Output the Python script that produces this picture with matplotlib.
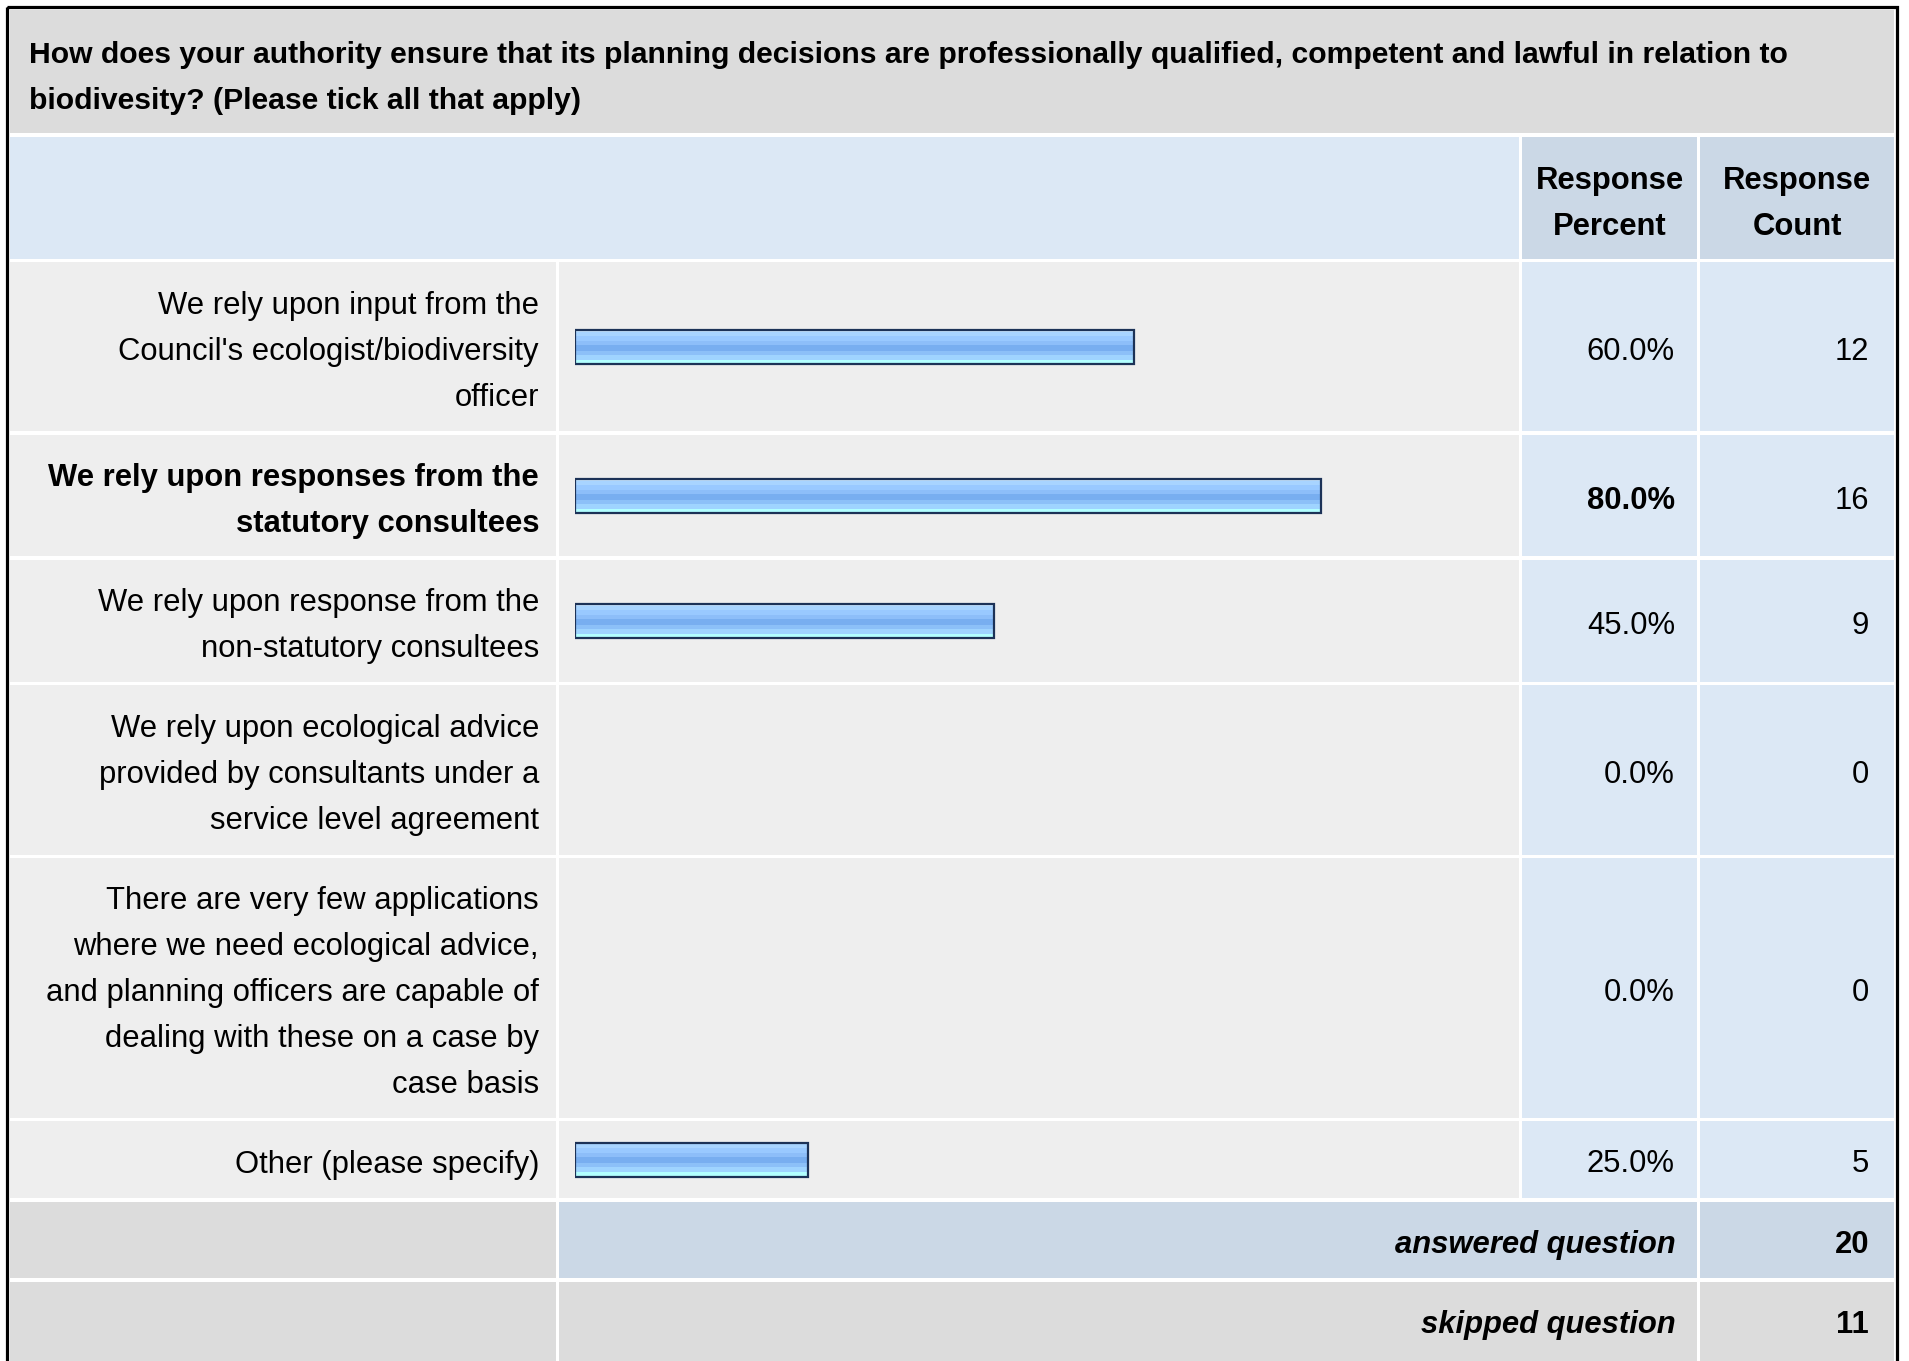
import matplotlib
matplotlib.use("Agg")
import matplotlib.pyplot as plt
from matplotlib.patches import Rectangle
from matplotlib.colors import ListedColormap
import numpy as np

plt.rcParams['font.family'] = ['Liberation Sans', 'DejaVu Sans']

# Survey data
question = ["How does your authority ensure that its planning decisions are professionally qualified, competent and lawful in relation to",
            "biodivesity? (Please tick all that apply)"]
options = [
    ["We rely upon input from the", "Council's ecologist/biodiversity", "officer"],
    ["We rely upon responses from the", "statutory consultees"],
    ["We rely upon response from the", "non-statutory consultees"],
    ["We rely upon ecological advice", "provided by consultants under a", "service level agreement"],
    ["There are very few applications", "where we need ecological advice,", "and planning officers are capable of",
     "dealing with these on a case by", "case basis"],
    ["Other (please specify)"],
]
percents = [60.0, 80.0, 45.0, 0.0, 0.0, 25.0]
counts = [12, 16, 9, 0, 0, 5]
answered = 20
skipped = 11

# Layout (pixels)
W, H = 1909, 1361
row_tops = [262, 435, 560, 685, 858, 1121]
row_bots = [431, 556, 682, 855, 1118, 1198]
lab_x0, lab_x1 = 10, 556
bar_x0, bar_x1 = 559, 1519
pct_x0, pct_x1 = 1522, 1697
cnt_x0, cnt_x1 = 1700, 1894

gray = '#dcdcdc'
light = '#eeeeee'
blue = '#dce8f5'
blue2 = '#cbd8e6'
FS = 22.3

fig = plt.figure(figsize=(W / 100, H / 100), dpi=100)
fig.patch.set_facecolor('white')
ax = fig.add_axes([0, 0, 1, 1])


def cell(x0, x1, y0, y1, color):
    ax.add_patch(Rectangle((x0, y0), x1 - x0, y1 - y0, fc=color, ec='none', zorder=1))


# title band and header
cell(lab_x0, cnt_x1, 10, 133, gray)
cell(lab_x0, bar_x1, 137, 259, blue)
cell(pct_x0, pct_x1, 137, 259, blue2)
cell(cnt_x0, cnt_x1, 137, 259, blue2)

for i, ln in enumerate(question):
    ax.text(29, 63 + 46 * i, ln, fontsize=21.7, fontweight='bold', ha='left', va='baseline', zorder=5)

for x, (a, b) in [((pct_x0 + pct_x1) / 2, ("Response", "Percent")),
                  ((cnt_x0 + cnt_x1) / 2, ("Response", "Count"))]:
    ax.text(x, 189, a, fontsize=FS, fontweight='bold', ha='center', va='baseline', zorder=5)
    ax.text(x, 235, b, fontsize=FS, fontweight='bold', ha='center', va='baseline', zorder=5)

top_i = int(np.argmax(percents))
centers = []
for i, lines in enumerate(options):
    y0, y1 = row_tops[i], row_bots[i]
    cell(lab_x0, lab_x1, y0, y1, light)
    cell(bar_x0, bar_x1, y0, y1, light)
    cell(pct_x0, pct_x1, y0, y1, blue)
    cell(cnt_x0, cnt_x1, y0, y1, blue)
    mid = (y0 + y1) / 2
    centers.append(mid)
    wt = 'bold' if i == top_i else 'normal'
    n = len(lines)
    for j, ln in enumerate(lines):
        yc = mid + 2 + (j - (n - 1) / 2) * 46
        ax.text(539, yc + 11, ln, fontsize=FS, fontweight=wt, ha='right', va='baseline', zorder=5)
    ax.text(1675, mid + 13, f"{percents[i]:.1f}%", fontsize=FS, fontweight=wt,
            ha='right', va='baseline', zorder=5)
    ax.text(1869, mid + 13, str(counts[i]), fontsize=FS, ha='right', va='baseline', zorder=5)

# summary rows
cell(lab_x0, lab_x1, 1202, 1278, gray)
cell(bar_x0, pct_x1, 1202, 1278, blue2)
cell(cnt_x0, cnt_x1, 1202, 1278, blue2)
cell(lab_x0, lab_x1, 1282, 1400, gray)
cell(bar_x0, pct_x1, 1282, 1400, gray)
cell(cnt_x0, cnt_x1, 1282, 1400, gray)
for yc, lab, val in [(1242, "answered question", answered), (1322, "skipped question", skipped)]:
    ax.text(1676, yc + 11, lab, fontsize=FS, fontweight='bold', fontstyle='italic',
            ha='right', va='baseline', zorder=5)
    ax.text(1869, yc + 11, str(val), fontsize=FS, fontweight='bold', ha='right', va='baseline', zorder=5)

# outer frame
ax.add_patch(Rectangle((7, 7), 1890, 1500, fill=False, ec='black', lw=2.3, zorder=6))
ax.set_xlim(0, W)
ax.set_ylim(H, 0)
ax.axis('off')

# bars with glossy gradient
bar_ax = fig.add_axes([575 / W, 0, 932 / W, 1])
stripes = ['#c6e4ff', '#a8d4ff', '#a8d4ff', '#99c9ff', '#99c9ff', '#8dbef9', '#8dbef9',
           '#78aef0', '#78aef0', '#78aef0', '#8cc0f8', '#8cc0f8', '#9fd4ff', '#9fd4ff',
           '#b2ffff', '#b2ffff']
cmap = ListedColormap(stripes)
grad = np.arange(len(stripes)).reshape(-1, 1)
bh = 34
for c, p in zip(centers, percents):
    if p <= 0:
        continue
    bar = bar_ax.barh([c], [p], height=bh, color='none', edgecolor='#1c3257', linewidth=1.6, zorder=3)[0]
    im = bar_ax.imshow(grad, extent=[0, p, c + bh / 2, c - bh / 2], aspect='auto', cmap=cmap,
                       interpolation='nearest', zorder=2)
    im.set_clip_path(bar)
bar_ax.set_xlim(0, 100)
bar_ax.set_ylim(H, 0)
bar_ax.axis('off')

fig.savefig('out.png', dpi=100)
